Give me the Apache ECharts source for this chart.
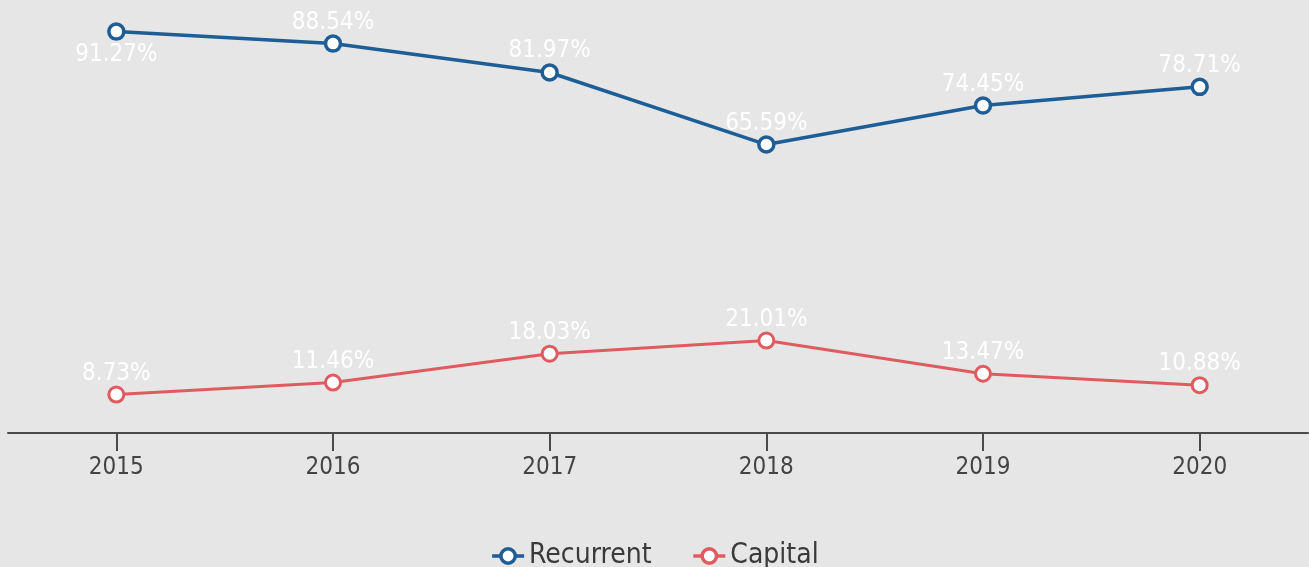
<!DOCTYPE html>
<html>
<head>
	<meta charset="utf-8">
	<title>Recurrent vs Capital</title>
	<script type="text/javascript" src="https://cdn.jsdelivr.net/npm/echarts@6/dist/echarts.min.js"></script>
</head>
<style type="text/css">
html, body {
	margin: 0;
	padding: 0;
	background: #e6e6e6;
}
#chart {
	width: 1309px;
	height: 567px;
}
</style>
<body>
	<div id="chart"></div>
</body>
<script type="text/javascript">
	// 数据
	var years = ['2015', '2016', '2017', '2018', '2019', '2020'];
	var recurrent = [91.27, 88.54, 81.97, 65.59, 74.45, 78.71];
	var capital = [8.73, 11.46, 18.03, 21.01, 13.47, 10.88];
	// 第一个点的标签放在下方
	var recurrentLabelPos = ['bottom', 'top', 'top', 'top', 'top', 'top'];

	var FONT = '"DejaVu Sans Condensed", "Liberation Sans Narrow", sans-serif';
	var BLUE = '#1f5d96';
	var RED = '#e05b60';

	function points(values, positions) {
		var out = [];
		for (var i = 0; i < values.length; i++) {
			var p = { value: values[i] };
			if (positions && positions[i] === 'bottom') {
				p.label = { position: 'bottom', distance: 2 };
			}
			out.push(p);
		}
		return out;
	}

	var chart = echarts.init(document.getElementById('chart'));

	var option = {
		backgroundColor: '#e6e6e6',
		animation: false,
		color: [BLUE, RED],
		legend: {
			bottom: -8,
			left: 'center',
			itemWidth: 32,
			itemHeight: 18,
			itemGap: 40,
			itemStyle: { borderWidth: 3.5 },
			lineStyle: { width: 3.5 },
			textStyle: {
				fontFamily: FONT,
				fontSize: 28,
				color: '#3a3a3a'
			},
			data: ['Recurrent', 'Capital']
		},
		grid: {
			left: 8,
			right: 1,
			top: 2,
			bottom: 134
		},
		xAxis: {
			type: 'category',
			data: years,
			boundaryGap: true,
			axisLine: { lineStyle: { color: '#4a4a4a', width: 2 } },
			axisTick: { show: true, alignWithLabel: true, length: 18, lineStyle: { color: '#4a4a4a', width: 2 } },
			axisLabel: {
				fontFamily: FONT,
				fontSize: 24,
				color: '#444',
				margin: 23
			}
		},
		yAxis: {
			type: 'value',
			min: 0,
			max: 98,
			show: false,
			splitLine: { show: false }
		},
		series: [
			{
				name: 'Recurrent',
				type: 'line',
				data: points(recurrent, recurrentLabelPos),
				symbol: 'circle',
				symbolSize: 15,
				lineStyle: { width: 3.5, color: BLUE },
				itemStyle: { color: '#ffffff', borderColor: BLUE, borderWidth: 3.5 },
				label: {
					show: true,
					position: 'top',
					distance: 0,
					formatter: '{c}%',
					fontFamily: FONT,
					fontSize: 24,
					color: '#ffffff'
				}
			},
			{
				name: 'Capital',
				type: 'line',
				data: points(capital),
				symbol: 'circle',
				symbolSize: 15,
				lineStyle: { width: 3, color: RED },
				itemStyle: { color: '#ffffff', borderColor: RED, borderWidth: 3 },
				label: {
					show: true,
					position: 'top',
					distance: 0,
					formatter: '{c}%',
					fontFamily: FONT,
					fontSize: 24,
					color: '#ffffff'
				}
			}
		]
	};

	chart.setOption(option);
</script>
</html>
